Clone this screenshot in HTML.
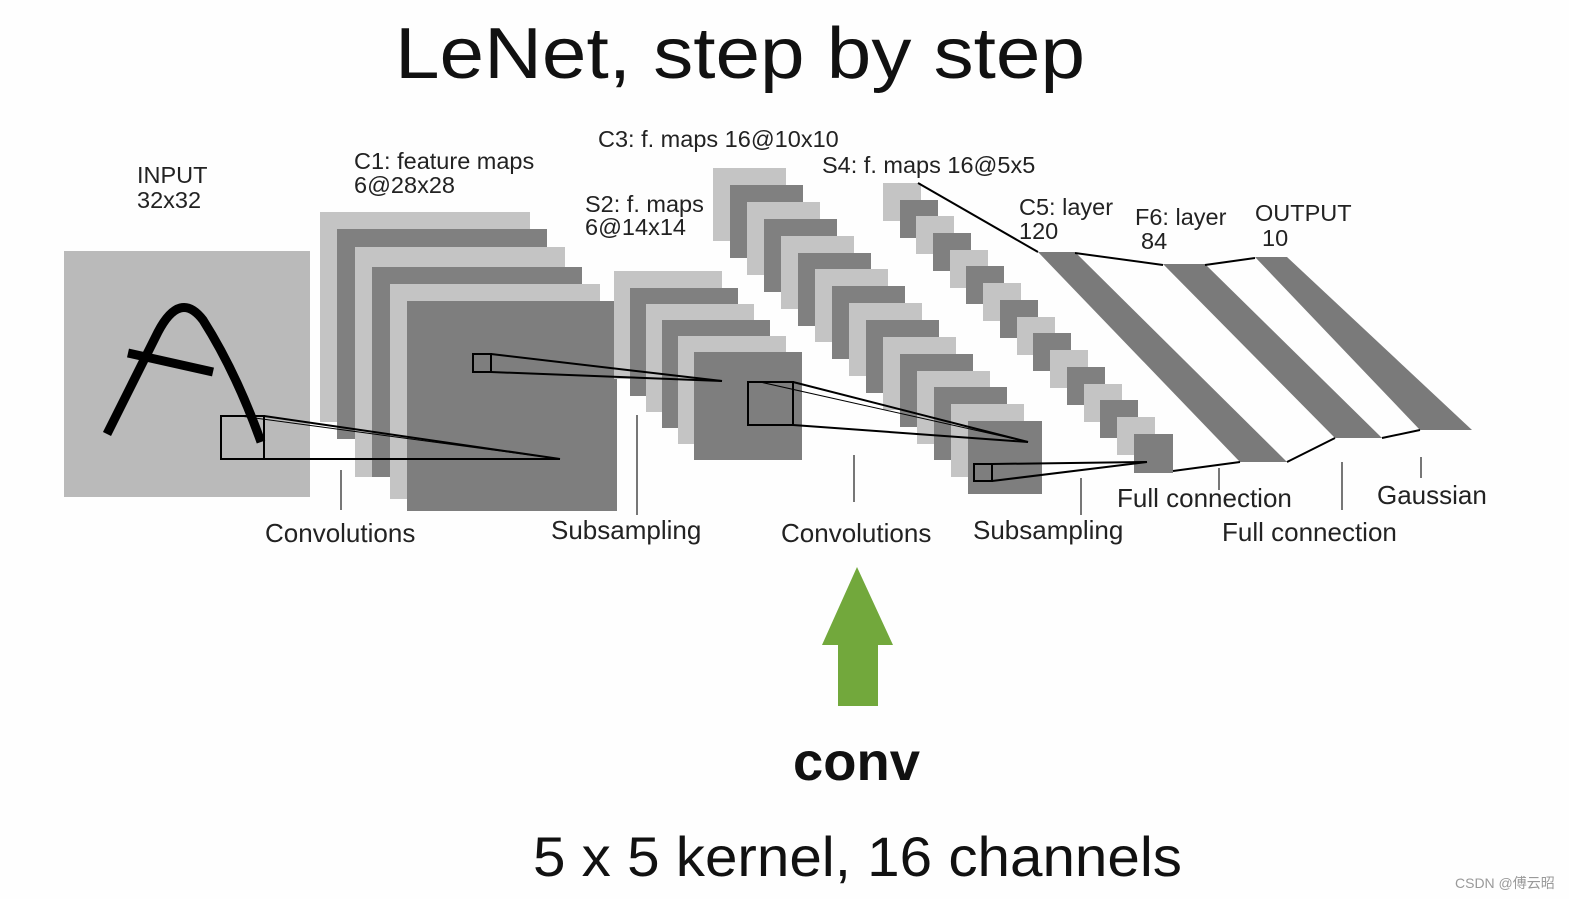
<!DOCTYPE html>
<html><head><meta charset="utf-8"><style>
html,body{margin:0;padding:0;background:#fff}
svg{display:block}
text{font-family:"Liberation Sans",Arial,sans-serif}
</style></head><body>
<svg width="1569" height="899" viewBox="0 0 1569 899" xmlns="http://www.w3.org/2000/svg">
<rect width="1569" height="899" fill="#fefefe"/>
<text x="395" y="78" font-size="72" fill="#111" textLength="690" lengthAdjust="spacingAndGlyphs">LeNet, step by step</text>

<!-- input -->
<rect x="64" y="251" width="246" height="246" fill="#bababa"/>
<g fill="none" stroke="#000" stroke-width="9" stroke-linecap="butt">
<path d="M107,434 L158,332 Q180,290 203,320 Q236,372 261,442"/>
<path d="M128,353 L213,372"/>
</g>

<!-- C1 -->
<g id="c1">
<rect x="320" y="212" width="210" height="210" fill="#c4c4c4"/>
<rect x="337" y="229" width="210" height="210" fill="#808080"/>
<rect x="355" y="247" width="210" height="230" fill="#c4c4c4"/>
<rect x="372" y="267" width="210" height="210" fill="#808080"/>
<rect x="390" y="284" width="210" height="215" fill="#c4c4c4"/>
<rect x="407" y="301" width="210" height="210" fill="#7e7e7e"/>
</g>

<!-- S2 -->
<rect x="614" y="271" width="108" height="108" fill="#c4c4c4"/>
<rect x="630" y="288" width="108" height="108" fill="#808080"/>
<rect x="646" y="304" width="108" height="108" fill="#c4c4c4"/>
<rect x="662" y="320" width="108" height="108" fill="#808080"/>
<rect x="678" y="336" width="108" height="108" fill="#c4c4c4"/>
<rect x="694" y="352" width="108" height="108" fill="#7e7e7e"/>

<!-- C3 -->
<g>
<rect x="713" y="168" width="73" height="73" fill="#c4c4c4"/>
<rect x="730" y="185" width="73" height="73" fill="#808080"/>
<rect x="747" y="202" width="73" height="73" fill="#c4c4c4"/>
<rect x="764" y="219" width="73" height="73" fill="#808080"/>
<rect x="781" y="236" width="73" height="73" fill="#c4c4c4"/>
<rect x="798" y="253" width="73" height="73" fill="#808080"/>
<rect x="815" y="269" width="73" height="73" fill="#c4c4c4"/>
<rect x="832" y="286" width="73" height="73" fill="#808080"/>
<rect x="849" y="303" width="73" height="73" fill="#c4c4c4"/>
<rect x="866" y="320" width="73" height="73" fill="#808080"/>
<rect x="883" y="337" width="73" height="73" fill="#c4c4c4"/>
<rect x="900" y="354" width="73" height="73" fill="#808080"/>
<rect x="917" y="371" width="73" height="73" fill="#c4c4c4"/>
<rect x="934" y="387" width="73" height="73" fill="#808080"/>
<rect x="951" y="404" width="73" height="73" fill="#c4c4c4"/>
<rect x="968" y="421" width="74" height="73" fill="#7e7e7e"/>
</g>

<!-- S4 -->
<g>
<rect x="883" y="183" width="38" height="38" fill="#c4c4c4"/>
<rect x="900" y="200" width="38" height="38" fill="#808080"/>
<rect x="916" y="216" width="38" height="38" fill="#c4c4c4"/>
<rect x="933" y="233" width="38" height="38" fill="#808080"/>
<rect x="950" y="250" width="38" height="38" fill="#c4c4c4"/>
<rect x="966" y="266" width="38" height="38" fill="#808080"/>
<rect x="983" y="283" width="38" height="38" fill="#c4c4c4"/>
<rect x="1000" y="300" width="38" height="38" fill="#808080"/>
<rect x="1017" y="317" width="38" height="38" fill="#c4c4c4"/>
<rect x="1033" y="333" width="38" height="38" fill="#808080"/>
<rect x="1050" y="350" width="38" height="38" fill="#c4c4c4"/>
<rect x="1067" y="367" width="38" height="38" fill="#808080"/>
<rect x="1084" y="384" width="38" height="38" fill="#c4c4c4"/>
<rect x="1100" y="400" width="38" height="38" fill="#808080"/>
<rect x="1117" y="417" width="38" height="38" fill="#c4c4c4"/>
<rect x="1134" y="434" width="39" height="39" fill="#7e7e7e"/>
</g>

<!-- C5 F6 OUTPUT -->
<polygon points="1038,252 1075,252 1287,462 1240,462" fill="#7a7a7a"/>
<polygon points="1163,264 1205,264 1382,438 1335,438" fill="#7a7a7a"/>
<polygon points="1255,257 1287,257 1472,430 1420,430" fill="#7a7a7a"/>

<g stroke="#000" stroke-width="2" fill="none">
<line x1="918" y1="183" x2="1038" y2="252"/>
<polyline points="1075,253 1163,265"/>
<polyline points="1205,265 1255,258"/>
<polyline points="1173,471 1240,462"/>
<polyline points="1287,462 1335,438"/>
<polyline points="1382,438 1420,430"/>
<!-- kernels -->
<rect x="221" y="416" width="43" height="43"/>
<line x1="264" y1="416" x2="560" y2="459"/>
<line x1="264" y1="459" x2="560" y2="459"/>
<line x1="240" y1="416" x2="560" y2="459" stroke-width="1"/>
<rect x="473" y="354" width="18" height="18"/>
<line x1="491" y1="354" x2="722" y2="381"/>
<line x1="491" y1="372" x2="722" y2="381"/>
<rect x="748" y="382" width="45" height="43"/>
<line x1="793" y1="382" x2="1028" y2="442"/>
<line x1="793" y1="425" x2="1028" y2="442"/>
<line x1="760" y1="382" x2="1028" y2="442" stroke-width="1"/>
<rect x="974" y="464" width="18" height="17"/>
<line x1="992" y1="464" x2="1147" y2="462"/>
<line x1="992" y1="481" x2="1147" y2="462"/>
</g>

<!-- ticks -->
<g stroke="#777" stroke-width="2">
<line x1="341" y1="470" x2="341" y2="510"/>
<line x1="637" y1="415" x2="637" y2="515"/>
<line x1="854" y1="455" x2="854" y2="502"/>
<line x1="1081" y1="478" x2="1081" y2="515"/>
<line x1="1219" y1="468" x2="1219" y2="490"/>
<line x1="1342" y1="462" x2="1342" y2="510"/>
<line x1="1421" y1="457" x2="1421" y2="478"/>
</g>

<g font-size="23.5" fill="#222">
<text x="137" y="183">INPUT</text>
<text x="137" y="208">32x32</text>
<text x="354" y="169">C1: feature maps</text>
<text x="354" y="193">6@28x28</text>
<text x="585" y="212">S2: f. maps</text>
<text x="585" y="235">6@14x14</text>
<text x="598" y="147">C3: f. maps 16@10x10</text>
<text x="822" y="173">S4: f. maps 16@5x5</text>
<text x="1019" y="215">C5: layer</text>
<text x="1019" y="239">120</text>
<text x="1135" y="225">F6: layer</text>
<text x="1141" y="249">84</text>
<text x="1255" y="221">OUTPUT</text>
<text x="1262" y="246">10</text>
</g>
<g font-size="26" fill="#222">
<text x="265" y="542">Convolutions</text>
<text x="551" y="539">Subsampling</text>
<text x="781" y="542">Convolutions</text>
<text x="973" y="539">Subsampling</text>
<text x="1117" y="507">Full connection</text>
<text x="1222" y="541">Full connection</text>
<text x="1377" y="504">Gaussian</text>
</g>

<!-- green arrow -->
<polygon points="857,567 893,645 878,645 878,706 838,706 838,645 822,645" fill="#72a83c"/>

<text x="793" y="780" font-size="54" font-weight="bold" fill="#111" textLength="127" lengthAdjust="spacingAndGlyphs">conv</text>
<text x="533" y="876" font-size="56" fill="#111" textLength="649" lengthAdjust="spacingAndGlyphs">5 x 5 kernel, 16 channels</text>
<text x="1455" y="888" font-size="14" fill="#999" font-family="Liberation Sans, 'Noto Sans CJK SC', sans-serif">CSDN @傅云昭</text>
</svg>
</body></html>
